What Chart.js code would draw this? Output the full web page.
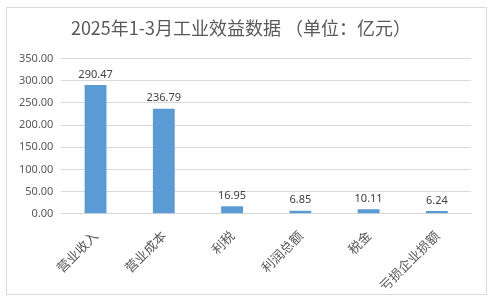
<!DOCTYPE html>
<html>
<head>
<meta charset="utf-8">
<script src="https://cdn.jsdelivr.net/npm/chart.js@4"></script>
<style>
  html, body { margin: 0; padding: 0; background: #fff; }
  #wrap { position: absolute; left: 6px; top: 7px; width: 479px; height: 286px; border: 1px solid #d9d9d9; }
</style>
</head>
<body>
<div id="wrap"></div>
<canvas id="barChart" width="493" height="301" style="position:absolute;left:0;top:0;"></canvas>
<script>
// chart data
const categories = ['营业收入', '营业成本', '利税', '利润总额', '税金', '亏损企业损额'];
const values = [290.47, 236.79, 16.95, 6.85, 10.11, 6.24];
const yTicks = [0, 50, 100, 150, 200, 250, 300, 350];

// draw value labels above bars
const valueLabels = {
  id: 'valueLabels',
  afterDatasetsDraw(chart) {
    const ctx = chart.ctx;
    const meta = chart.getDatasetMeta(0);
    ctx.save();
    ctx.font = "11px 'Noto Sans', sans-serif";
    ctx.fillStyle = '#404040';
    ctx.textAlign = 'center';
    ctx.textBaseline = 'bottom';
    meta.data.forEach((bar, i) => {
      ctx.fillText(values[i].toFixed(2), bar.x, bar.y - 5);
    });
    ctx.restore();
  }
};

const ctx2 = document.getElementById('barChart').getContext('2d');
new Chart(ctx2, {
  type: 'bar',
  data: {
    labels: categories,
    datasets: [
      {
        label: '工业效益',
        data: values,
        backgroundColor: '#5b9bd5',
        barPercentage: 0.32,
        categoryPercentage: 1.0
      }
    ]
  },
  options: {
    responsive: false,
    animation: false,
    layout: { padding: { left: 11, right: 22, top: 17, bottom: 1 } },
    plugins: {
      legend: { display: false },
      tooltip: { enabled: false },
      title: {
        display: true,
        text: '2025年1-3月工业效益数据 （单位：亿元）',
        color: '#595959',
        font: { family: "'Noto Sans CJK SC', sans-serif", size: 18, weight: 'normal' },
        padding: { top: 0, bottom: 20 }
      }
    },
    scales: {
      x: {
        grid: { display: false },
        border: { color: '#d9d9d9' },
        ticks: {
          color: '#595959',
          maxRotation: 45,
          minRotation: 45,
          padding: 6,
          font: { family: "'Noto Sans CJK SC', sans-serif", size: 13 }
        }
      },
      y: {
        min: 0,
        max: 350,
        afterBuildTicks(axis) { axis.ticks = yTicks.map(v => ({ value: v })); },
        grid: { color: '#d9d9d9', drawTicks: false },
        border: { display: false },
        ticks: {
          color: '#595959',
          padding: 8,
          font: { family: "'Noto Sans', sans-serif", size: 11 },
          callback: v => v.toFixed(2)
        }
      }
    }
  },
  plugins: [valueLabels]
});
</script>
</body>
</html>
